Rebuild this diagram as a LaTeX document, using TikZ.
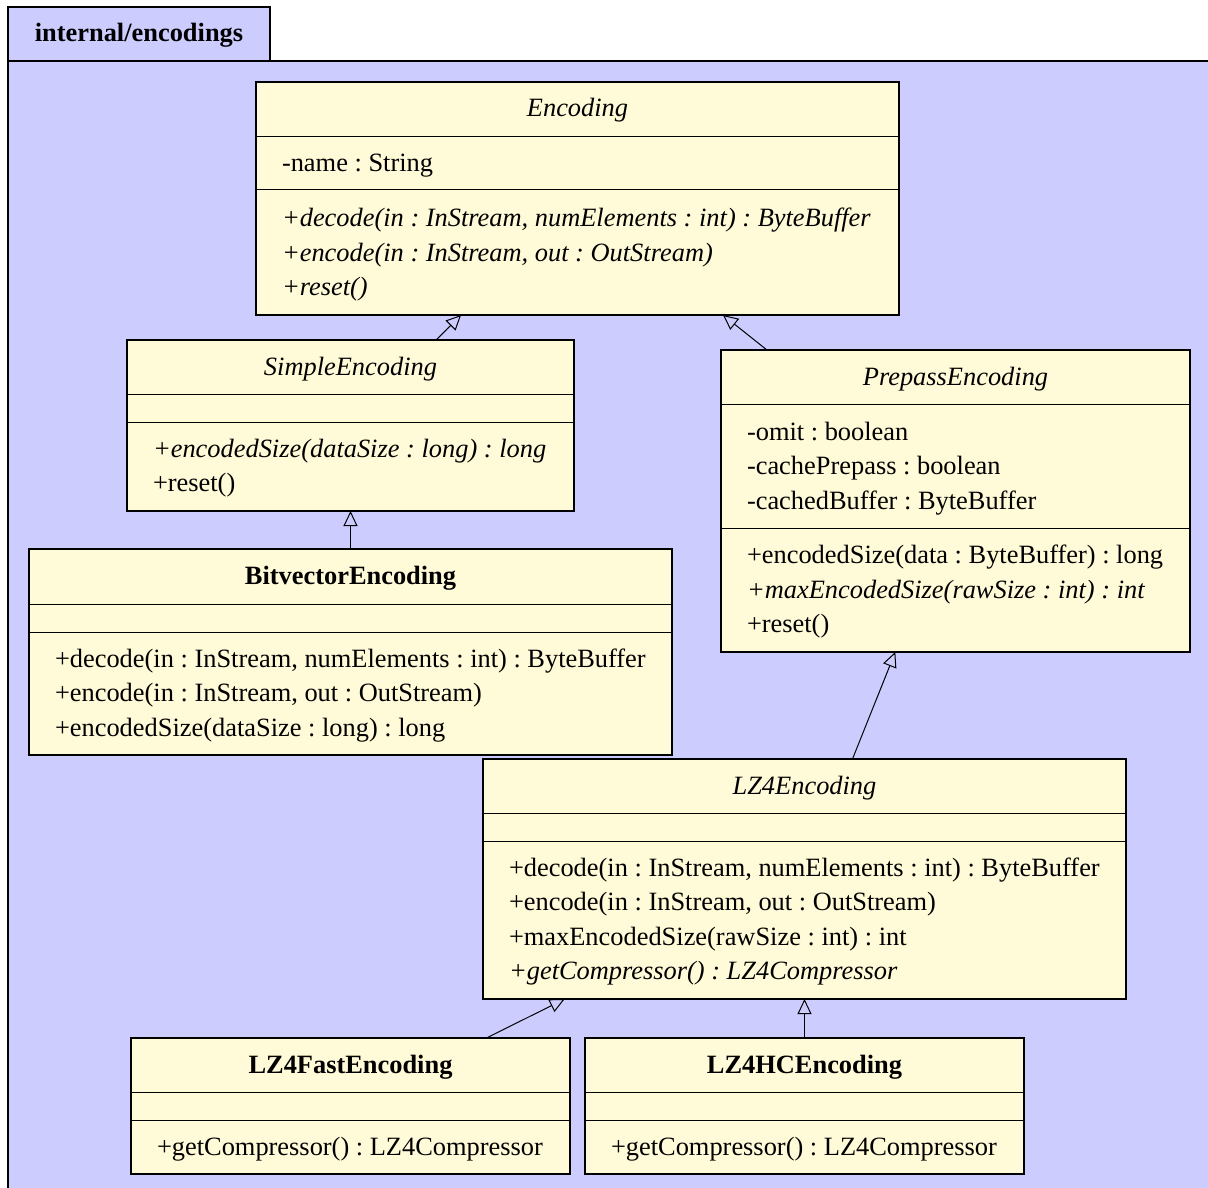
\documentclass[tikz,border=0pt]{standalone}
\usepackage{fontspec}
\setmainfont{Liberation Serif}
\usetikzlibrary{arrows.meta}
\definecolor{pkgfill}{RGB}{204,204,255}
\definecolor{clsfill}{RGB}{255,250,215}
\frenchspacing
\begin{document}
\begin{tikzpicture}[x=0.5pt,y=-0.5pt,
  font=\fontsize{13.2pt}{17pt}\selectfont\frenchspacing,
  cls/.style={draw, fill=clsfill, line width=0.55pt, rectangle, inner sep=0pt, outer sep=0pt, anchor=north west},
  divider/.style={line width=0.5pt},
  txt/.style={anchor=base west, inner sep=0pt, outer sep=0pt},
  ttl/.style={anchor=base, inner sep=0pt, outer sep=0pt},
  gen/.style={line width=0.5pt, -{Triangle[open,length=7.5pt,width=7pt]}}]
\useasboundingbox (0,0) rectangle (1208,1187);
% package frame
\fill[pkgfill] (8,61) rectangle (1210,1190);
\draw[line width=0.55pt] (1210,61) -- (8,61) -- (8,1190);
\draw[line width=0.55pt, fill=pkgfill] (8,7) rectangle (270,61);
\node[ttl] (pkgname) at (139,42) {\bfseries internal/encodings};

% Encoding
\node[cls, minimum width=321.5pt, minimum height=116.5pt] (enc) at (256,82) {};
\draw[divider] (enc.west |- 0,137) -- (enc.east |- 0,137);
\draw[divider] (enc.west |- 0,190) -- (enc.east |- 0,190);
\node[ttl] (encT) at (577.5,117) {\itshape Encoding};
\node[txt] (encA1) at (282,172) {-name : String};
\node[txt] (encM1) at (282,227) {\itshape +decode(in : InStream, numElements : int) : ByteBuffer};
\node[txt] (encM2) at (282,261.5) {\itshape +encode(in : InStream, out : OutStream)};
\node[txt] (encM3) at (282,296) {\itshape +reset()};

% SimpleEncoding
\node[cls, minimum width=223.5pt, minimum height=85.5pt] (simple) at (127,340) {};
\draw[divider] (simple.west |- 0,394) -- (simple.east |- 0,394);
\draw[divider] (simple.west |- 0,422) -- (simple.east |- 0,422);
\node[ttl] (simpleT) at (350.5,375) {\itshape SimpleEncoding};
\node[txt] (simpleM1) at (153,457) {\itshape +encodedSize(dataSize : long) : long};
\node[txt] (simpleM2) at (153,491.5) {+reset()};

% PrepassEncoding
\node[cls, minimum width=234.5pt, minimum height=151pt] (prepass) at (721,350) {};
\draw[divider] (prepass.west |- 0,404) -- (prepass.east |- 0,404);
\draw[divider] (prepass.west |- 0,528) -- (prepass.east |- 0,528);
\node[ttl] (prepassT) at (955.5,385) {\itshape PrepassEncoding};
\node[txt] (prepassA1) at (747,440) {-omit : boolean};
\node[txt] (prepassA2) at (747,474.5) {-cachePrepass : boolean};
\node[txt] (prepassA3) at (747,509) {-cachedBuffer : ByteBuffer};
\node[txt] (prepassM1) at (747,563.5) {+encodedSize(data : ByteBuffer) : long};
\node[txt] (prepassM2) at (747,598) {\itshape +maxEncodedSize(rawSize : int) : int};
\node[txt] (prepassM3) at (747,632.5) {+reset()};

% BitvectorEncoding
\node[cls, minimum width=321.5pt, minimum height=103pt] (bitvec) at (29,549) {};
\draw[divider] (bitvec.west |- 0,604) -- (bitvec.east |- 0,604);
\draw[divider] (bitvec.west |- 0,632) -- (bitvec.east |- 0,632);
\node[ttl] (bitvecT) at (350.5,584) {\bfseries BitvectorEncoding};
\node[txt] (bitvecM1) at (55,667) {+decode(in : InStream, numElements : int) : ByteBuffer};
\node[txt] (bitvecM2) at (55,701.5) {+encode(in : InStream, out : OutStream)};
\node[txt] (bitvecM3) at (55,736) {+encodedSize(dataSize : long) : long};

% LZ4Encoding
\node[cls, minimum width=321.5pt, minimum height=120pt] (lz4) at (483,759) {};
\draw[divider] (lz4.west |- 0,813) -- (lz4.east |- 0,813);
\draw[divider] (lz4.west |- 0,841) -- (lz4.east |- 0,841);
\node[ttl] (lz4T) at (804.5,794) {\itshape LZ4Encoding};
\node[txt] (lz4M1) at (509,876) {+decode(in : InStream, numElements : int) : ByteBuffer};
\node[txt] (lz4M2) at (509,910.5) {+encode(in : InStream, out : OutStream)};
\node[txt] (lz4M3) at (509,945) {+maxEncodedSize(rawSize : int) : int};
\node[txt] (lz4M4) at (509,979.5) {\itshape +getCompressor() : LZ4Compressor};

% LZ4FastEncoding
\node[cls, minimum width=219.5pt, minimum height=68pt] (fast) at (131,1038) {};
\draw[divider] (fast.west |- 0,1092) -- (fast.east |- 0,1092);
\draw[divider] (fast.west |- 0,1120) -- (fast.east |- 0,1120);
\node[ttl] (fastT) at (350.5,1073) {\bfseries LZ4FastEncoding};
\node[txt] (fastM1) at (157,1155) {+getCompressor() : LZ4Compressor};

% LZ4HCEncoding
\node[cls, minimum width=219.5pt, minimum height=68pt] (hc) at (585,1038) {};
\draw[divider] (hc.west |- 0,1092) -- (hc.east |- 0,1092);
\draw[divider] (hc.west |- 0,1120) -- (hc.east |- 0,1120);
\node[ttl] (hcT) at (804.5,1073) {\bfseries LZ4HCEncoding};
\node[txt] (hcM1) at (611,1155) {+getCompressor() : LZ4Compressor};

% generalizations
\draw[gen] (simple) -- (enc);
\draw[gen] (prepass) -- (enc);
\draw[gen] (bitvec) -- (simple);
\draw[gen] (lz4) -- (prepass);
\draw[gen] (fast) -- (lz4);
\draw[gen] (hc) -- (lz4);
\end{tikzpicture}
\end{document}
